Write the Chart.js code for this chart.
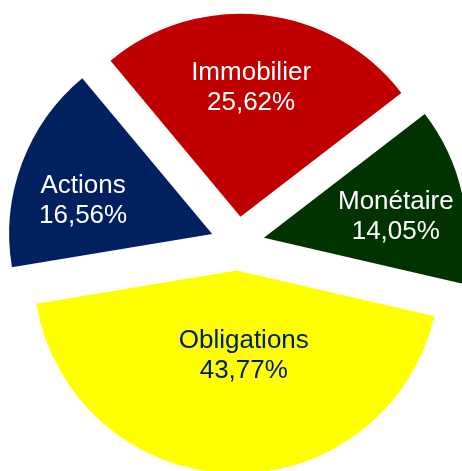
<!DOCTYPE html>
<html>
<head>
<meta charset="utf-8">
<script src="https://cdn.jsdelivr.net/npm/chart.js@4/dist/chart.umd.min.js"></script>
<style>
  html, body { margin: 0; padding: 0; background: #ffffff; }
  canvas { display: block; }
</style>
</head>
<body>
<canvas id="allocationChart" width="462" height="471"></canvas>
<script>
// slices, clockwise from the top-left edge
var categories = ['Immobilier', 'Monétaire', 'Obligations', 'Actions'];
var shares = [25.62, 14.05, 43.77, 16.56];
var sliceColors = ['#C00000', '#003300', '#FFFF00', '#002060'];
var labelColors = ['#FFFFFF', '#FFFFFF', '#002060', '#FFFFFF'];
// label placement: distance from the slice tip (part of the radius)
// and a small turn (degrees) away from the slice's middle
var labelRadius = [0.65, 0.66, 0.41, 0.66];
var labelTurn = [-1.7, 2.2, -6.7, -4.9];

function formatShare(v) {
    return v.toFixed(2).replace('.', ',') + '%';
}

// pull every slice away from the centre (like Excel's exploded pie)
var explodePlugin = {
    id: 'explode',
    afterDatasetUpdate: function (chart, args, opts) {
        var arcs = args.meta.data;
        for (var i = 0; i < arcs.length; i++) {
            var a = arcs[i];
            var mid = (a.startAngle + a.endAngle) / 2;
            a.x += Math.cos(mid) * opts.distance;
            a.y += Math.sin(mid) * opts.distance;
        }
    }
};

var sliceLabelPlugin = {
    id: 'sliceLabels',
    afterDatasetsDraw: function (chart, args, opts) {
        var ctx = chart.ctx;
        var arcs = chart.getDatasetMeta(0).data;
        ctx.save();
        ctx.font = opts.size + 'px "Liberation Sans", Arial, sans-serif';
        ctx.textAlign = 'center';
        ctx.textBaseline = 'alphabetic';
        for (var i = 0; i < arcs.length; i++) {
            var a = arcs[i];
            var mid = (a.startAngle + a.endAngle) / 2 + labelTurn[i] * Math.PI / 180;
            var r = a.outerRadius * labelRadius[i];
            var cx = a.x + Math.cos(mid) * r;
            var cy = a.y + Math.sin(mid) * r;
            ctx.fillStyle = labelColors[i];
            ctx.fillText(categories[i], cx, cy - 5.5);
            ctx.fillText(formatShare(shares[i]), cx, cy + 24.5);
        }
        ctx.restore();
    }
};

var allocationChart = new Chart(document.getElementById('allocationChart'), {
    type: 'pie',
    data: {
        labels: categories,
        datasets: [{
            data: shares,
            backgroundColor: sliceColors,
            borderWidth: 0,
            hoverOffset: 0,
            clip: false
        }]
    },
    options: {
        responsive: false,
        animation: false,
        rotation: -39.8,
        radius: 203,
        layout: {
            padding: { left: 13, top: 16, right: 0, bottom: 0 }
        },
        plugins: {
            legend: { display: false },
            tooltip: { enabled: false },
            explode: { distance: 27 },
            sliceLabels: { size: 26 }
        }
    },
    plugins: [explodePlugin, sliceLabelPlugin]
});
</script>
</body>
</html>
